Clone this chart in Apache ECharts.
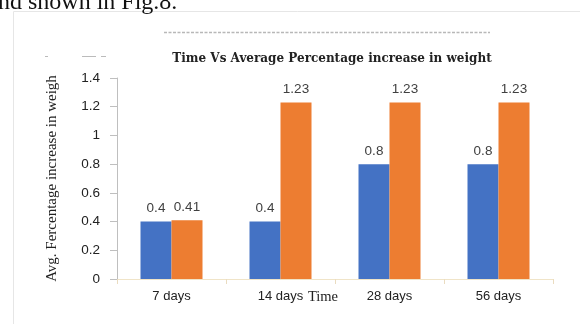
<!DOCTYPE html>
<html><head><meta charset="utf-8">
<script src="https://cdn.jsdelivr.net/npm/echarts@6/dist/echarts.min.js"></script>
<style>html,body{margin:0;padding:0;background:#fff}#c{width:580px;height:324px}</style>
</head><body><div id="c"></div>
<script>
const categories = ['7 days', '14 days', '28 days', '56 days'];
const seriesA = [0.4, 0.4, 0.8, 0.8];
const seriesB = [0.41, 1.23, 1.23, 1.23];
const yTicks = { min: 0, max: 1.4, interval: 0.2 };
const titleText = 'Time Vs Average Percentage increase in weight';
const yName = 'Avg. Fercentage increase in weigh';
const xName = 'Time';
const captionText = 'nd shown in Fig.8.';

const chart = echarts.init(document.getElementById('c'), null, {renderer: 'canvas'});
const lbl = {show: true, position: 'top', distance: 6, color: '#404040', fontFamily: 'Liberation Sans', fontSize: 13.5,
  formatter: p => String(p.value)};
chart.setOption({
  animation: false,
  backgroundColor: '#fff',
  graphic: [
    {type: 'text', left: -2, top: -9, style: {text: captionText, fontFamily: 'Liberation Serif', fontSize: 24, fill: '#111'}},
    {type: 'rect', shape: {x: 13.5, y: 11.5, width: 600, height: 400}, style: {fill: 'none', stroke: '#e6e6e6', lineWidth: 1}, z: -1},
    {type: 'line', shape: {x1: 164, y1: 32.5, x2: 490, y2: 32.5}, style: {stroke: '#b8b8b8', lineWidth: 1.5, lineDash: [3, 1.5]}},
    {type: 'rect', shape: {x: 45, y: 56, width: 3, height: 1}, style: {fill: '#bbb'}},
    {type: 'rect', shape: {x: 82, y: 56, width: 14, height: 1}, style: {fill: '#bbb'}},
    {type: 'rect', shape: {x: 101, y: 56, width: 5, height: 1}, style: {fill: '#bbb'}}
  ],
  title: {text: titleText, left: 327, top: 48, textAlign: 'center',
    textStyle: {fontFamily: 'DejaVu Serif', fontSize: 12, fontWeight: 'bold', color: '#222'}},
  grid: {left: 117, right: 27, top: 78, bottom: 45, containLabel: false},
  xAxis: {
    type: 'category', data: categories,
    name: xName, nameLocation: 'middle', nameGap: 11, nameMoveOverlap: false,
    nameTextStyle: {fontFamily: 'Liberation Serif', fontSize: 14.5, color: '#222', padding: [0, 24, 0, 0]},
    axisLine: {lineStyle: {color: '#f0e4c8', width: 1}},
    axisTick: {show: true, length: 5, lineStyle: {color: '#eadcc0'}},
    axisLabel: {color: '#222', fontFamily: 'Liberation Sans', fontSize: 13, margin: 11},
    splitLine: {show: false}
  },
  yAxis: {
    type: 'value', min: yTicks.min, max: yTicks.max, interval: yTicks.interval,
    name: yName, nameLocation: 'middle', nameGap: 57, nameRotate: 90,
    nameTextStyle: {fontFamily: 'Liberation Serif', fontSize: 15, color: '#222'},
    axisLine: {show: true, lineStyle: {color: '#bfbfbf'}},
    axisTick: {show: true, length: 7, lineStyle: {color: '#bfbfbf'}},
    axisLabel: {color: '#222', fontFamily: 'Liberation Sans', fontSize: 13.5, margin: 17,
      formatter: v => String(Math.round(v * 10) / 10)},
    splitLine: {show: false}
  },
  series: [
    {type: 'bar', data: seriesA, barWidth: 31, barGap: '0%', itemStyle: {color: '#4472C4'}, label: lbl},
    {type: 'bar', data: seriesB, barWidth: 31, barGap: '0%', itemStyle: {color: '#ED7D31'}, label: lbl}
  ]
});
</script></body></html>
